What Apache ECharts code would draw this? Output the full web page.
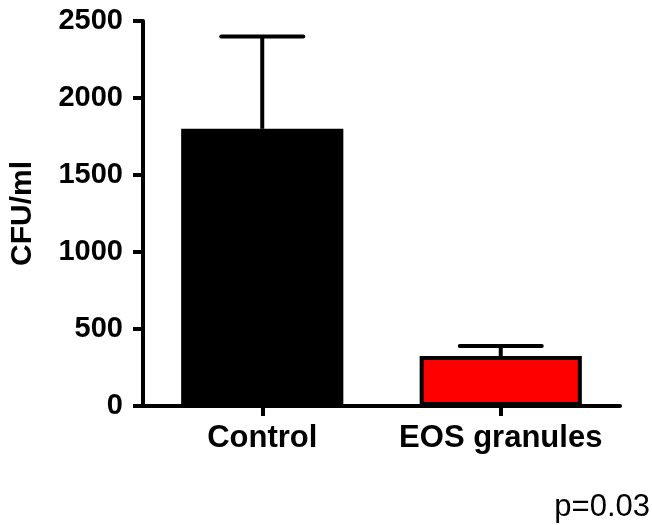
<!DOCTYPE html>
<html>
<head>
<meta charset="utf-8">
<script src="https://cdn.jsdelivr.net/npm/echarts@6/dist/echarts.min.js"></script>
<style>
html,body{margin:0;padding:0;background:#fff;}
#chart{width:652px;height:525px;}
</style>
</head>
<body>
<div id="chart"></div>
<script>
const categories = ['Control', 'EOS granules'];
const means = [1800, 325];
const errorTops = [2400, 390];
const barColors = ['#000000', '#FF0000'];
const yTicks = [0, 500, 1000, 1500, 2000, 2500];
const yAxisTitle = 'CFU/ml';
const pValueText = 'p=0.03';

const FONT = '"Liberation Sans", Arial, Helvetica, sans-serif';
const chart = echarts.init(document.getElementById('chart'), null, {renderer: 'canvas'});

const option = {
  animation: false,
  backgroundColor: '#ffffff',
  grid: {left: 142, right: 32, top: 21, bottom: 119, containLabel: false},
  title: {
    text: pValueText,
    right: 2,
    top: 492,
    padding: 0,
    textStyle: {fontFamily: FONT, fontSize: 31, fontWeight: 'normal', color: '#000'}
  },
  xAxis: {
    type: 'category',
    data: categories,
    axisLine: {lineStyle: {color: '#000', width: 4}},
    axisTick: {show: true, inside: false, alignWithLabel: true, length: 10, lineStyle: {color: '#000', width: 4}},
    axisLabel: {interval: 0, fontFamily: FONT, fontSize: 31, fontWeight: 'bold', color: '#000', margin: 17}
  },
  yAxis: {
    type: 'value',
    min: yTicks[0],
    max: yTicks[yTicks.length - 1],
    interval: yTicks[1] - yTicks[0],
    name: yAxisTitle,
    nameLocation: 'middle',
    nameRotate: 90,
    nameGap: 105,
    nameTextStyle: {fontFamily: FONT, fontSize: 30, fontWeight: 'bold', color: '#000'},
    axisLine: {show: true, lineStyle: {color: '#000', width: 4}},
    axisTick: {show: true, inside: false, length: 10, lineStyle: {color: '#000', width: 4}},
    splitLine: {show: false},
    axisLabel: {formatter: function (v) { return String(v); }, fontFamily: FONT, fontSize: 29, fontWeight: 'bold', color: '#000', margin: 20}
  },
  series: [
    {
      type: 'bar',
      barWidth: '68%',
      data: means.map((v, i) => ({value: v, itemStyle: {color: barColors[i]}})),
      itemStyle: {borderColor: '#000', borderWidth: 4},
      z: 2
    },
    {
      type: 'custom',
      z: 3,
      data: means.map((v, i) => [i, v, errorTops[i]]),
      renderItem: function (params, api) {
        const x = api.value(0);
        const lo = api.coord([x, api.value(1)]);
        const hi = api.coord([x, api.value(2)]);
        const half = api.size([1, 0])[0] * 0.172;
        return {
          type: 'group',
          children: [
            {type: 'line', shape: {x1: lo[0], y1: lo[1], x2: hi[0], y2: hi[1]},
             style: {stroke: '#000', lineWidth: 4}},
            {type: 'line', shape: {x1: hi[0] - half, y1: hi[1], x2: hi[0] + half, y2: hi[1]},
             style: {stroke: '#000', lineWidth: 4, lineCap: 'round'}}
          ]
        };
      }
    }
  ]
};
chart.setOption(option);
</script>
</body>
</html>
